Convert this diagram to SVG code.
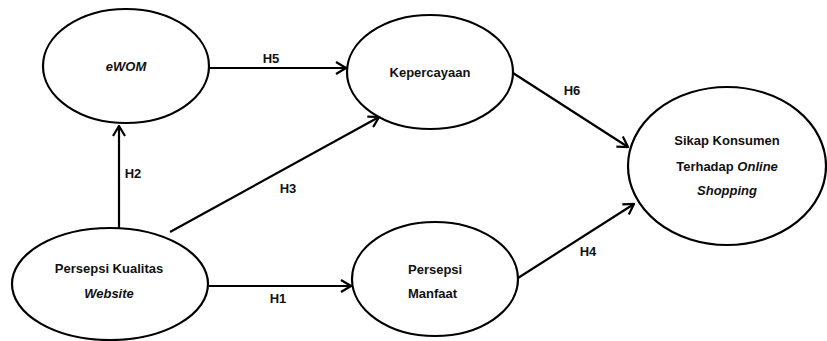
<svg xmlns="http://www.w3.org/2000/svg" width="827" height="341" viewBox="0 0 827 341">
<style>
.n{fill:#fff;stroke:#000;stroke-width:2.2}
.t{font-family:"Liberation Sans",Arial,sans-serif;font-weight:bold;font-size:13px;fill:#111;text-anchor:middle}
.i{font-style:italic}
.c{stroke:#000;stroke-width:2.2;fill:none;marker-end:url(#a)}
</style>
<defs>
<marker id="a" markerWidth="12" markerHeight="14" refX="11" refY="7" orient="auto" markerUnits="userSpaceOnUse">
<path d="M1,1 L11,7 L1,13" fill="none" stroke="#000" stroke-width="2.2"/>
</marker>
</defs>
<g id="connectors">
<line class="c" x1="209" y1="68" x2="346" y2="68"/>
<line class="c" x1="119" y1="228" x2="119" y2="126"/>
<line class="c" x1="170" y1="232" x2="379" y2="117"/>
<line class="c" x1="209" y1="286" x2="351" y2="286"/>
<line class="c" x1="513" y1="73" x2="628" y2="147"/>
<line class="c" x1="518" y1="278" x2="634" y2="204"/>
<text class="t" x="271" y="63">H5</text>
<text class="t" x="133" y="178">H2</text>
<text class="t" x="288" y="193">H3</text>
<text class="t" x="278" y="303">H1</text>
<text class="t" x="572" y="95">H6</text>
<text class="t" x="588" y="256">H4</text>
</g>
<g id="ewom">
<ellipse class="n" cx="126" cy="66" rx="83" ry="57"/>
<text class="t i" x="126" y="71">eWOM</text>
</g>
<g id="kepercayaan">
<ellipse class="n" cx="430" cy="72" rx="83" ry="57"/>
<text class="t" x="430" y="77">Kepercayaan</text>
</g>
<g id="sikap">
<ellipse class="n" cx="727" cy="166" rx="99" ry="79"/>
<text class="t" x="727" y="145">Sikap Konsumen</text>
<text class="t" x="727" y="171">Terhadap <tspan class="i">Online</tspan></text>
<text class="t i" x="727" y="195">Shopping</text>
</g>
<g id="kualitas">
<ellipse class="n" cx="110" cy="284" rx="98" ry="56"/>
<text class="t" x="109" y="273">Persepsi Kualitas</text>
<text class="t i" x="109" y="298">Website</text>
</g>
<g id="manfaat">
<ellipse class="n" cx="435" cy="279" rx="83" ry="57"/>
<text class="t" x="408" y="274" style="text-anchor:start">Persepsi</text>
<text class="t" x="408" y="298" style="text-anchor:start">Manfaat</text>
</g>
</svg>
